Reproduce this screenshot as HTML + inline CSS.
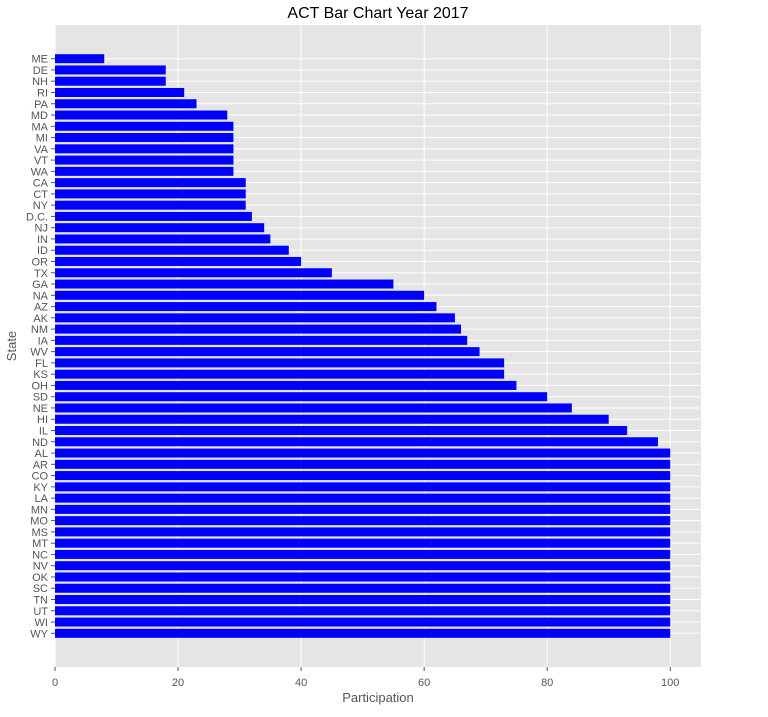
<!DOCTYPE html>
<html><head><meta charset="utf-8"><style>
body{margin:0;background:#fff;font-family:"Liberation Sans",sans-serif;}
</style></head><body>
<svg id="chart" width="768" height="712" xmlns="http://www.w3.org/2000/svg">
<text x="378" y="18" text-anchor="middle" font-size="16" fill="#000">ACT Bar Chart Year 2017</text>
<rect x="55" y="25" width="646" height="642" fill="#e5e5e5"/>
<g id="grid"></g><g id="bars"></g><g id="yticks"></g><g id="xticks"></g>
<text x="378" y="702" text-anchor="middle" font-size="13" fill="#555">Participation</text>
<text x="16" y="346" text-anchor="middle" font-size="13" fill="#555" transform="rotate(-90 16 346)">State</text>
</svg>
<script>
const states=["ME","DE","NH","RI","PA","MD","MA","MI","VA","VT","WA","CA","CT","NY","D.C.","NJ","IN","ID","OR","TX","GA","NA","AZ","AK","NM","IA","WV","FL","KS","OH","SD","NE","HI","IL","ND","AL","AR","CO","KY","LA","MN","MO","MS","MT","NC","NV","OK","SC","TN","UT","WI","WY"];
const participation=[8,18,18,21,23,28,29,29,29,29,29,31,31,31,32,34,35,38,40,45,55,60,62,65,66,67,69,73,73,75,80,84,90,93,98,100,100,100,100,100,100,100,100,100,100,100,100,100,100,100,100,100];
const xTicks=[0,20,40,60,80,100];
const NS="http://www.w3.org/2000/svg";
const L=55,T=25,W=646,H=642,xMax=105;
const n=states.length;
const yMin=-0.4-0.05*(n-1+0.8),yMax=n-1+0.4+0.05*(n-1+0.8);
const xs=v=>L+v/xMax*W;
const ys=i=>T+(i-yMin)/(yMax-yMin)*H;
const bh=0.8*H/(yMax-yMin);
function mk(t,a,p){const e=document.createElementNS(NS,t);for(const k in a)e.setAttribute(k,a[k]);p.appendChild(e);return e;}
const g=document.getElementById('grid'),b=document.getElementById('bars'),yt=document.getElementById('yticks'),xt=document.getElementById('xticks');
xTicks.forEach(v=>{
 const l=mk('line',{x1:xs(v),x2:xs(v),y1:T,y2:T+H,stroke:'#fff','stroke-width':1},g);
 
 
 const tk=mk('line',{x1:xs(v),x2:xs(v),y1:T+H,y2:T+H+4,stroke:'#555','stroke-width':1},xt);
 
 
 const t=mk('text',{x:xs(v),y:T+H+19,'text-anchor':'middle','font-size':11,fill:'#555'},xt);
 t.textContent=v;
 
 
});
states.forEach((s,i)=>{
 const l=mk('line',{x1:L,x2:L+W,y1:ys(i),y2:ys(i),stroke:'#fff','stroke-width':1},g);
 
 
 const r=mk('rect',{x:xs(0),y:ys(i)-bh/2,width:xs(participation[i])-xs(0),height:bh,fill:'#0000ff'},b);
 
 
 const tk=mk('line',{x1:L-4,x2:L,y1:ys(i),y2:ys(i),stroke:'#555','stroke-width':1},yt);
 
 
 const t=mk('text',{x:L-7,y:ys(i)+4,'text-anchor':'end','font-size':11,fill:'#555'},yt);
 t.textContent=s;
 
 
});
</script>
</body></html>
